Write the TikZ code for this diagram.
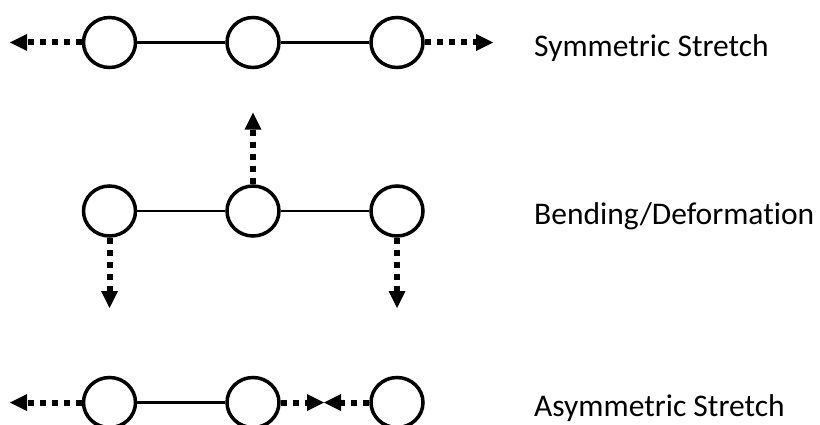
\documentclass[tikz,border=0pt]{standalone}
\usepackage{fontspec}
\setmainfont{Carlito}[Ligatures=NoCommon]
\usetikzlibrary{shapes.geometric,arrows.meta}
\begin{document}
\begin{tikzpicture}[x=1pt,y=-1pt,
  atom/.style={draw, ellipse, line width=3.5pt, minimum width=52pt, minimum height=50pt, inner sep=0pt},
  bond/.style={line width=2.5pt},
  motion/.style={line width=6pt, dash pattern=on 6pt off 6pt,
    -{Triangle[length=17pt,width=17pt,line width=0pt]}},
  modename/.style={anchor=base west, inner sep=0pt, font=\fontsize{31.5}{36}\selectfont}]
\clip (0,0) rectangle (820,425);

% symmetric stretch
\node[atom] (a1) at (109.5,42.5) {};
\node[atom] (b1) at (253,42.5) {};
\node[atom] (c1) at (397,42.5) {};
\draw[bond] (a1) -- (b1);
\draw[bond] (b1) -- (c1);
\coordinate (l1) at (10,42.5);
\coordinate (r1) at (493,42.5);
\draw[motion] (a1.west) -- (l1);
\draw[motion] (c1.east) -- (r1);
\node[modename] (t1) at (534,56.7) {Symmetric Stretch};

% bending
\node[atom] (a2) at (109.5,211) {};
\node[atom] (b2) at (253,211) {};
\node[atom] (c2) at (397,211) {};
\draw[bond] (a2) -- (b2);
\draw[bond] (b2) -- (c2);
\coordinate (u2) at (253,112.7);
\coordinate (dl2) at (109.5,308);
\coordinate (dr2) at (397,308);
\draw[motion] (b2.north) -- (u2);
\draw[motion] (a2.south) -- (dl2);
\draw[motion] (c2.south) -- (dr2);
\node[modename] (t2) at (534,225) {Bending/Deformation};

% asymmetric stretch
\node[atom] (a3) at (109.5,402.5) {};
\node[atom] (b3) at (253,402.5) {};
\node[atom] (c3) at (397,402.5) {};
\draw[bond] (a3) -- (b3);
\coordinate (l3) at (10,402.5);
\coordinate (m3) at (324,402.5);
\draw[motion] (a3.west) -- (l3);
\draw[motion] (b3.east) -- (m3);
\draw[motion] (c3.west) -- (m3);
\node[modename] (t3) at (534,416) {Asymmetric Stretch};
\end{tikzpicture}
\end{document}
